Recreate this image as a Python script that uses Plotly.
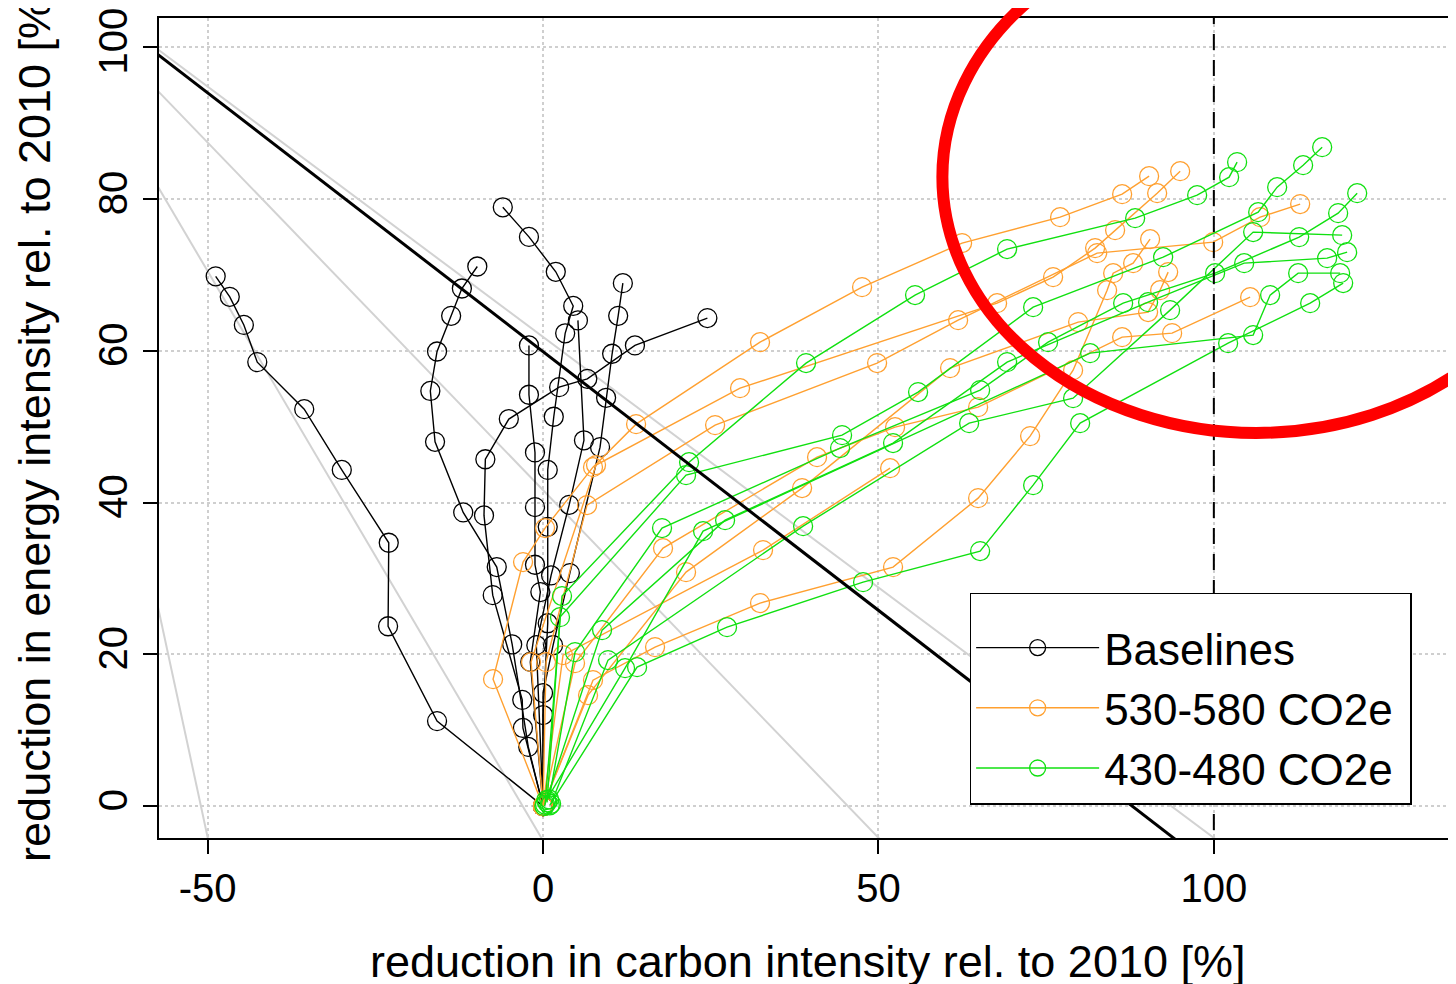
import plotly.graph_objects as go

# ---------------- data (reduction in carbon intensity [x], energy intensity [y], % rel. to 2010) -------------
# Baselines
b1_x = [0, -15.8, -23.1, -23.0, -30.0, -35.6, -42.6, -44.6, -46.7, -48.8]
b1_y = [0, 11.2, 23.7, 34.7, 44.3, 52.3, 58.5, 63.4, 67.1, 69.8]
b2_x = [0, -2.2, -4.6, -6.9, -11.9, -16.1, -16.8, -15.8, -13.7, -12.1, -9.8]
b2_y = [0, 7.8, 21.3, 31.5, 38.7, 48.0, 54.7, 59.9, 64.6, 68.2, 71.1]
b3_x = [0, -3.0, -3.1, -7.5, -8.8, -8.6, -5.1, 2.4, 6.6, 13.7, 24.5]
b3_y = [0, 10.3, 14.0, 27.8, 38.3, 45.7, 51.0, 55.2, 56.3, 60.7, 64.3]
b4_x = [0, 0.0, 0.7, 0.7, 0.7, 1.6, 3.3, 4.5, 1.9, -2.1, -6.0]
b4_y = [0, 12.0, 24.1, 36.8, 44.3, 51.3, 62.3, 65.9, 70.4, 75.0, 78.9]
b5_x = [0, -1.9, -0.4, -1.2, -1.2, -1.2, -2.1, -2.1]
b5_y = [0, 19.0, 28.2, 31.8, 39.4, 46.6, 54.2, 60.7]
b6_x = [0, -1.0, 1.2, 3.9, 6.1, 5.2]
b6_y = [0, 21.2, 30.4, 39.7, 48.2, 64.0]
b7_x = [0, 0.0, 1.5, 4.0, 8.5, 9.4, 10.3, 11.2, 11.9]
b7_y = [0, 14.9, 21.2, 30.7, 47.3, 53.8, 59.6, 64.6, 68.9]

# 530-580 CO2e
o1_x = [0, -7.45, -2.98, 0.30, 7.45, 13.87, 32.35, 47.56, 62.47, 77.08, 86.33, 90.35]
o1_y = [0, 16.73, 32.15, 36.63, 44.66, 50.33, 61.13, 68.38, 74.18, 77.60, 80.63, 83.00]
o2_x = [0, -1.79, 7.90, 29.37, 67.69, 76.04, 82.30, 85.28, 91.55, 94.98]
o2_y = [0, 18.97, 44.93, 55.07, 66.27, 69.70, 73.52, 75.89, 80.76, 83.66]
o3_x = [0, 4.77, 17.89, 40.85, 52.48, 64.86, 86.33, 93.78, 105.41]
o3_y = [0, 18.84, 33.99, 45.98, 49.93, 52.57, 61.79, 62.32, 67.06]
o4_x = [0, 6.71, 21.32, 38.62, 60.68, 79.77, 90.20, 91.99, 93.19]
o4_y = [0, 14.62, 30.83, 41.90, 57.71, 63.77, 65.09, 67.98, 70.36]
o5_x = [0, 7.45, 16.70, 32.35, 52.18, 64.86, 72.61, 79.02, 84.09, 84.99, 87.97, 90.50]
o5_y = [0, 16.60, 20.95, 26.75, 31.49, 40.58, 48.75, 57.44, 67.98, 70.22, 71.54, 74.70]
o6_x = [0, 2.98, 32.80, 51.74]
o6_y = [0, 19.89, 33.73, 44.53]
o7_x = [0, 0.45, 6.56, 25.65, 49.80, 61.88, 82.60, 99.90, 106.90, 112.87]
o7_y = [0, 18.97, 39.66, 50.20, 58.37, 64.03, 72.86, 74.31, 77.60, 79.32]

# 430-480 CO2e
g1_x = [0.3, 2.83, 21.77, 39.21, 55.46, 69.18, 88.27, 97.51, 102.28, 103.47]
g1_y = [0.2, 27.67, 45.32, 58.37, 67.33, 73.39, 77.47, 80.50, 82.87, 84.85]
g2_x = [0.6, 2.53, 21.32, 44.58, 55.91, 73.06, 92.44, 106.61, 109.44, 113.31, 116.15]
g2_y = [0.5, 24.90, 43.61, 48.88, 54.55, 65.74, 72.33, 78.26, 81.55, 84.45, 86.82]
g3_x = [0.9, 4.77, 17.74, 44.28, 65.16, 75.29, 86.48, 100.19, 112.72, 118.53, 121.37]
g3_y = [0.9, 20.29, 36.63, 47.17, 54.81, 61.13, 66.27, 70.22, 74.97, 78.13, 80.76]
g4_x = [0.2, 8.80, 27.14, 52.18, 69.18, 90.20, 104.52, 116.89, 119.87]
g4_y = [0.0, 23.19, 37.68, 47.83, 58.50, 66.40, 71.54, 72.20, 72.99]
g5_x = [1.2, 9.69, 38.77, 63.52, 79.02, 93.48, 105.86, 119.13]
g5_y = [0.3, 19.24, 36.89, 50.46, 53.75, 65.35, 75.63, 75.23]
g6_x = [0.5, 12.23, 23.86, 81.56, 105.86, 108.39, 112.57, 118.83]
g6_y = [0.8, 18.18, 36.23, 59.68, 62.06, 67.33, 70.22, 70.22]
g7_x = [1.0, 14.02, 27.43, 47.71, 65.16, 73.06, 80.07, 102.13, 114.36, 119.28]
g7_y = [0.1, 18.31, 23.58, 29.51, 33.60, 42.29, 50.46, 61.00, 66.27, 68.91]

# reference (iso) lines
iso_black_x = [-60, 97]
iso_black_y = [100.8, -6.25]
iso_grey_a_x = [-60, 102]
iso_grey_a_y = [101.4, -5.5]
iso_grey_b_x = [-60, 52]
iso_grey_b_y = [96.6, -6.0]
iso_grey_c_x = [-60, 1]
iso_grey_c_y = [85.5, -6.05]
iso_grey_e_x = [-60, -49]
iso_grey_e_y = [36.9, -8.2]
full_decarb_x = [100, 100]
full_decarb_y = [-10, 110]

x_ticks = [-50, 0, 50, 100]
x_ticklabels = ["-50", "0", "50", "100"]
y_ticks = [0, 20, 40, 60, 80, 100]
y_ticklabels = ["0", "20", "40", "60", "80", "100"]

baselines = [(b1_x, b1_y), (b2_x, b2_y), (b3_x, b3_y), (b4_x, b4_y), (b5_x, b5_y), (b6_x, b6_y), (b7_x, b7_y)]
orange_runs = [(o1_x, o1_y), (o2_x, o2_y), (o3_x, o3_y), (o4_x, o4_y), (o5_x, o5_y), (o6_x, o6_y), (o7_x, o7_y)]
green_runs = [(g1_x, g1_y), (g2_x, g2_y), (g3_x, g3_y), (g4_x, g4_y), (g5_x, g5_y), (g6_x, g6_y), (g7_x, g7_y)]

FONT = "Liberation Sans, Arial, Helvetica, sans-serif"
GREY = "#d2d2d2"
NB = "\u00a0"

fig = go.Figure()

for xs, ys in [(iso_grey_a_x, iso_grey_a_y), (iso_grey_b_x, iso_grey_b_y),
               (iso_grey_c_x, iso_grey_c_y), (iso_grey_e_x, iso_grey_e_y)]:
    fig.add_trace(go.Scatter(x=xs, y=ys, mode="lines", line=dict(color=GREY, width=2),
                             showlegend=False, hoverinfo="skip"))

def add_group(runs, color, name, group):
    for i, (xs, ys) in enumerate(runs):
        fig.add_trace(go.Scatter(
            x=xs, y=ys, mode="lines+markers",
            line=dict(color=color, width=1.4),
            marker=dict(symbol="circle-open", size=19, color=color, line=dict(width=1.3)),
            name=name, legendgroup=group, showlegend=(i == 0)))

add_group(baselines, "#000000", "Baselines", "b")
add_group(orange_runs, "#FFA030", "530-580 CO2e" + NB, "o")
add_group(green_runs, "#10E010", "430-480 CO2e", "g")

fig.add_trace(go.Scatter(x=iso_black_x, y=iso_black_y, mode="lines",
                         line=dict(color="black", width=3), showlegend=False, hoverinfo="skip"))
fig.add_trace(go.Scatter(x=full_decarb_x, y=full_decarb_y, mode="lines",
                         line=dict(color="black", width=2, dash="16px,10px"),
                         showlegend=False, hoverinfo="skip"))

axis_common = dict(
    showline=True, linecolor="black", linewidth=1.5,
    ticks="outside", ticklen=14, tickwidth=1.5, tickcolor="black",
    showgrid=True, gridcolor="#cfcfcf", gridwidth=1.5, griddash="dot",
    zeroline=False, ticklabeloverflow="allow",
    tickfont=dict(size=40, family=FONT, color="black"),
)

# page body has an 8px margin: figure is 1448x976 so that it fills the 1456x984 window
fig.update_layout(
    width=1448, height=976,
    margin=dict(l=151, r=0, t=10, b=146),
    plot_bgcolor="white", paper_bgcolor="white",
    font=dict(family=FONT, color="black", size=40),
    xaxis=dict(range=[-57.25, 136.1], tickvals=x_ticks, ticktext=x_ticklabels,
               mirror=True, **axis_common),
    yaxis=dict(range=[-4.2, 103.84], tickvals=y_ticks, ticktext=y_ticklabels,
               tickangle=-90, **axis_common),
    legend=dict(x=0.625, y=0.299, xanchor="left", yanchor="top",
                bgcolor="white", bordercolor="black", borderwidth=1.5,
                font=dict(size=44, family=FONT, color="black"),
                title=dict(text=NB, font=dict(size=14)),
                itemwidth=123, tracegroupgap=0),
    annotations=[
        dict(text="reduction in carbon intensity rel. to 2010 [%]", xref="paper", yref="paper",
             x=0.5, y=-0.151, xanchor="center", yanchor="middle", showarrow=False,
             font=dict(size=45, family=FONT, color="black")),
        dict(text="reduction in energy intensity rel. to 2010 [%]", xref="paper", yref="paper",
             x=-0.0956, y=0.505, xanchor="center", yanchor="middle", showarrow=False, textangle=-90,
             font=dict(size=45, family=FONT, color="black")),
    ],
    shapes=[
        dict(type="circle", xref="paper", yref="paper", x0=0.604, x1=1.088, y0=0.494, y1=1.118,
             line=dict(color="#ff0000", width=12), layer="above"),
    ],
)

fig.write_html("out.html")
